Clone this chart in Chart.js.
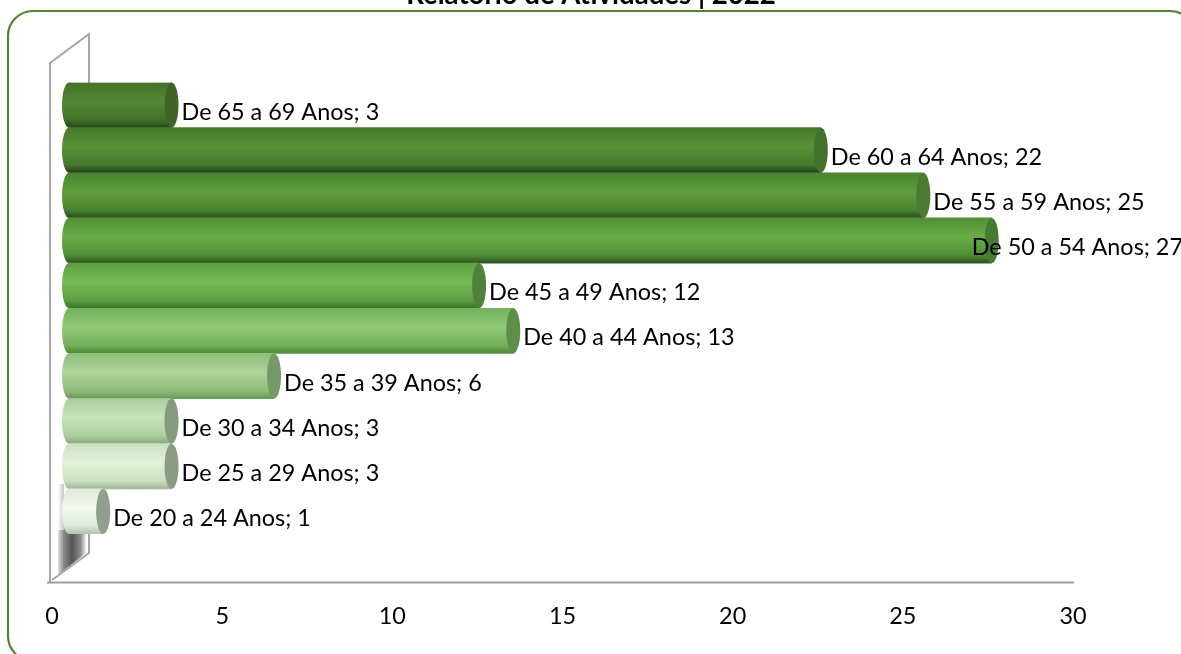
<!DOCTYPE html>
<html><head><meta charset="utf-8">
<style>html,body{margin:0;padding:0;background:#fff;overflow:hidden}#w{position:relative;width:1181px;height:654px}canvas{display:block}</style>
<script src="https://cdn.jsdelivr.net/npm/chart.js@4/dist/chart.umd.min.js"></script>
</head><body><div id="w"><canvas id="c" width="1181" height="654"></canvas></div>
<script>
const titleText = "Relatório de Atividades | 2022";
const categories = ["De 65 a 69 Anos","De 60 a 64 Anos","De 55 a 59 Anos","De 50 a 54 Anos","De 45 a 49 Anos","De 40 a 44 Anos","De 35 a 39 Anos","De 30 a 34 Anos","De 25 a 29 Anos","De 20 a 24 Anos"];
const values = [3,22,25,27,12,13,6,3,3,1];
const tickValues = [0,5,10,15,20,25,30];
// [edge, mid highlight, lower, cap]
const barShades = [
 ["#43722a","#528734","#274d17","#3c6526"],
 ["#47792c","#569236","#25481a","#43702b"],
 ["#4c8231","#5f9e3f","#2c5520","#4b7a31"],
 ["#528e36","#68ad47","#2f5e22","#4a7a2f"],
 ["#5f9f42","#74bb55","#3f7a2d","#4f8238"],
 ["#74b159","#90ca78","#548f3e","#5d8f4a"],
 ["#90bd7b","#aed49a","#6f9e5c","#76996a"],
 ["#accda0","#c9e2bb","#8fae82","#869a7f"],
 ["#cbe0c0","#e4f1dc","#a8bb9f","#8b9c85"],
 ["#dfeadb","#f2f8ef","#b8c6b2","#8fa08c"]
];
const FONT = 'Lato, Carlito, "Open Sans", sans-serif';
const LABEL_PX = 23.4;

function barGradient(ctx, top, bottom, s){
  const g = ctx.createLinearGradient(0, top, 0, bottom);
  g.addColorStop(0, s[0]);
  g.addColorStop(0.42, s[1]);
  g.addColorStop(0.82, s[0]);
  g.addColorStop(0.97, s[2]); g.addColorStop(1, s[2]);
  return g;
}
const decor = {
  id:'decor',
  beforeDraw(chart){
    const c = chart.ctx, ca = chart.chartArea, sx = chart.scales.x;
    c.save();
    c.fillStyle='#fff'; c.fillRect(0,0,chart.width,chart.height);
    // frame
    c.strokeStyle='#548235'; c.lineWidth=2.2;
    c.beginPath(); c.roundRect(8,11,1187,650,25); c.stroke();
    // title, cropped by the top of the page
    c.fillStyle='#000'; c.font='bold 27.6px '+FONT; c.textAlign='center'; c.textBaseline='alphabetic';
    c.fillText(titleText,591,4);
    // dark shadow on the wall
    const xL = sx.getPixelForValue(0);
    const floor = 582;
    const g = c.createLinearGradient(58,0,86,0);
    g.addColorStop(0,'#e0e0e0'); g.addColorStop(0.2,'#8c8c8c'); g.addColorStop(0.5,'#555'); g.addColorStop(0.8,'#8a8a8a'); g.addColorStop(1,'#f2f2f2');
    c.fillStyle=g;
    c.beginPath(); c.moveTo(58,528); c.lineTo(86,528); c.lineTo(86,553); c.lineTo(58,575); c.closePath(); c.fill();
    const g2 = c.createLinearGradient(58,0,64,0);
    g2.addColorStop(0,'#ffffff'); g2.addColorStop(1,'#c4c4c4');
    c.fillStyle=g2; c.fillRect(58,484,6,46);
    // wall outline
    c.strokeStyle='#a6a6a6'; c.lineWidth=2;
    c.beginPath();
    c.moveTo(xL-2,floor); c.lineTo(xL-2,63); c.lineTo(89,34); c.lineTo(89,ca.top+10);
    c.moveTo(89,530); c.lineTo(89,553); c.lineTo(xL,580);
    c.stroke();
    // floor line of the value axis
    c.strokeStyle='#9d9d9d'; c.lineWidth=2;
    c.beginPath(); c.moveTo(47,floor+0.5); c.lineTo(sx.right+1,floor+0.5); c.stroke();
    c.restore();
  },
  beforeDatasetsDraw(chart){
    const c = chart.ctx, meta = chart.getDatasetMeta(0);
    c.save();
    meta.data.forEach((b,i)=>{
      const h=b.height, t=b.y-h/2;
      c.fillStyle=barGradient(c,t,t+h,barShades[i]);
      c.beginPath(); c.ellipse(b.base,b.y,7,h/2,0,0,Math.PI*2); c.fill();
    });
    c.restore();
  },
  afterDatasetsDraw(chart){
    const c = chart.ctx, meta = chart.getDatasetMeta(0);
    c.save();
    meta.data.forEach((b,i)=>{
      c.fillStyle=barShades[i][3];
      c.beginPath(); c.ellipse(b.x,b.y,7,b.height/2,0,0,Math.PI*2); c.fill();
    });
    c.font=LABEL_PX+'px '+FONT; c.fillStyle='#000'; c.textBaseline='middle'; c.textAlign='left';
    meta.data.forEach((b,i)=>{
      const s = categories[i]+'; '+values[i];
      const w = c.measureText(s).width;
      const x = Math.min(b.x+10, chart.width-w+2);
      c.fillText(s,x,b.y+7);
    });
    c.restore();
  }
};
new Chart(document.getElementById('c'),{
  type:'bar',
  data:{labels:categories,datasets:[{data:values,xAxisID:'xBar',yAxisID:'y',borderWidth:0,borderSkipped:false,
    categoryPercentage:1,barPercentage:1,
    backgroundColor(ctx){
      const ca=ctx.chart.chartArea; if(!ca) return '#5a9a3e';
      const step=(ca.bottom-ca.top)/categories.length;
      const t=ca.top+ctx.dataIndex*step;
      return barGradient(ctx.chart.ctx,t,t+step,barShades[ctx.dataIndex]);
    }}]},
  options:{
    indexAxis:'y',responsive:false,animation:false,devicePixelRatio:1,
    layout:{padding:{left:52,right:108,top:82.5,bottom:0}},
    plugins:{legend:{display:false},title:{display:false},tooltip:{enabled:false}},
    scales:{
      y:{type:'category',display:false},
      x:{type:'linear',position:'bottom',min:0,max:30,
        afterBuildTicks(s){s.ticks=tickValues.map(v=>({value:v}));},
        grid:{display:false,drawTicks:false},border:{display:false},
        ticks:{padding:68,color:'#000',font:{family:FONT,size:LABEL_PX},maxRotation:0},
        afterFit(s){s.height=120;s.paddingLeft=0;s.paddingRight=0;}},
      xBar:{type:'linear',display:false,min:-0.4975,max:29.38}
    }
  },
  plugins:[decor]
});
</script></body></html>
